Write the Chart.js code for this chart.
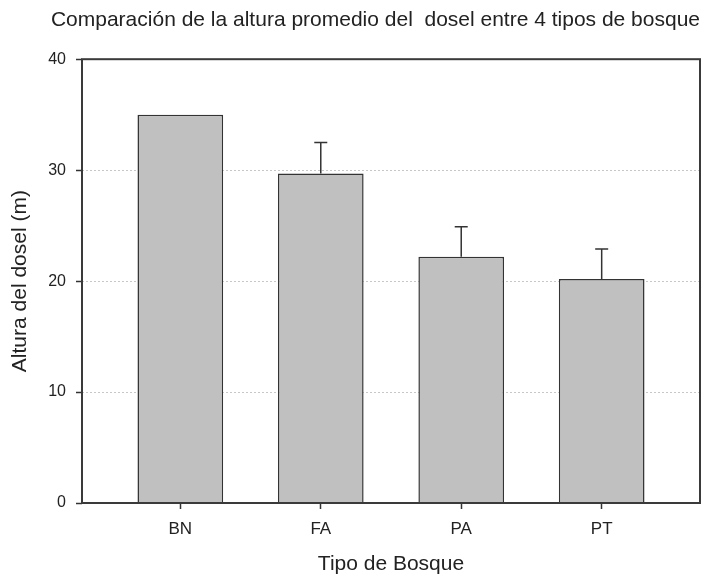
<!DOCTYPE html>
<html>
<head>
<meta charset="utf-8">
<script src="https://cdn.jsdelivr.net/npm/chart.js@4"></script>
<style>
html,body{margin:0;padding:0;background:#fff;}
</style>
</head>
<body>
<canvas id="chart" width="706" height="577"></canvas>
<script>
// values
const categories = ['BN', 'FA', 'PA', 'PT'];
const heights = [35.0, 29.7, 22.2, 20.2];
const errors = [0, 2.8, 2.7, 2.7];
const yTicks = [0, 10, 20, 30, 40];

Chart.defaults.font.family = "'Liberation Sans', Arial, sans-serif";
Chart.defaults.color = '#222';

const ink = '#333';

// upward-only error bars with a cap
const errorBars = {
  id: 'errorBars',
  afterDatasetsDraw(chart) {
    const {ctx, scales: {x, y}} = chart;
    ctx.save();
    ctx.strokeStyle = ink;
    ctx.lineWidth = 1.5;
    heights.forEach((h, i) => {
      if (!errors[i]) return;
      const px = x.getPixelForValue(i + 1);
      const y0 = y.getPixelForValue(h);
      const y1 = y.getPixelForValue(h + errors[i]);
      ctx.beginPath();
      ctx.moveTo(px, y0); ctx.lineTo(px, y1);
      ctx.moveTo(px - 6.5, y1); ctx.lineTo(px + 6.5, y1);
      ctx.stroke();
    });
    ctx.restore();
  }
};

// box round the plot area
const frame = {
  id: 'frame',
  afterDatasetsDraw(chart) {
    const {ctx, chartArea: a} = chart;
    ctx.save();
    ctx.strokeStyle = '#3a3a3a';
    ctx.lineWidth = 2;
    ctx.strokeRect(a.left, a.top, a.right - a.left, a.bottom - a.top);
    ctx.restore();
  }
};

new Chart(document.getElementById('chart'), {
  type: 'bar',
  data: {
    datasets: [{
      data: categories.map((c, i) => ({x: i + 1, y: heights[i]})),
      backgroundColor: '#c0c0c0',
      borderColor: ink,
      borderWidth: 1.5,
      categoryPercentage: 1,
      barPercentage: 0.61
    }]
  },
  plugins: [errorBars, frame],
  options: {
    responsive: false,
    animation: false,
    layout: {padding: {right: 6}},
    plugins: {
      legend: {display: false},
      tooltip: {enabled: false},
      title: {
        display: true,
        align: 'end',
        text: 'Comparación de la altura promedio del  dosel entre 4 tipos de bosque',
        font: {size: 21, weight: 'normal'},
        color: '#222',
        padding: {top: 8, bottom: 26}
      }
    },
    scales: {
      x: {
        type: 'linear',
        offset: false,
        min: 0.3, max: 4.7,
        afterBuildTicks: s => { s.ticks = categories.map((_, i) => ({value: i + 1})); },
        afterFit: s => { s.height = 74; },
        ticks: {
          autoSkip: false,
          padding: 10,
          font: {size: 17},
          callback: v => categories[v - 1]
        },
        grid: {offset: false, drawOnChartArea: false, tickLength: 6, tickColor: ink, tickWidth: 1.5},
        border: {display: false},
        title: {
          display: true, text: 'Tipo de Bosque',
          font: {size: 21}, color: '#222',
          padding: {top: 0, bottom: 0}
        }
      },
      y: {
        min: 0, max: 40,
        afterBuildTicks: s => { s.ticks = yTicks.map(v => ({value: v})); },
        afterFit: s => { s.width = 82; },
        ticks: {padding: 10, font: {size: 16}},
        grid: {
          color: '#c8c8c8', lineWidth: 1,
          tickLength: 6, tickColor: ink, tickWidth: 1.5, tickBorderDash: []
        },
        border: {display: false, dash: [2, 2]},
        title: {
          display: true, text: 'Altura del dosel (m)',
          font: {size: 21}, color: '#222',
          padding: {top: 8, bottom: 0}
        }
      }
    }
  }
});
</script>
</body>
</html>
